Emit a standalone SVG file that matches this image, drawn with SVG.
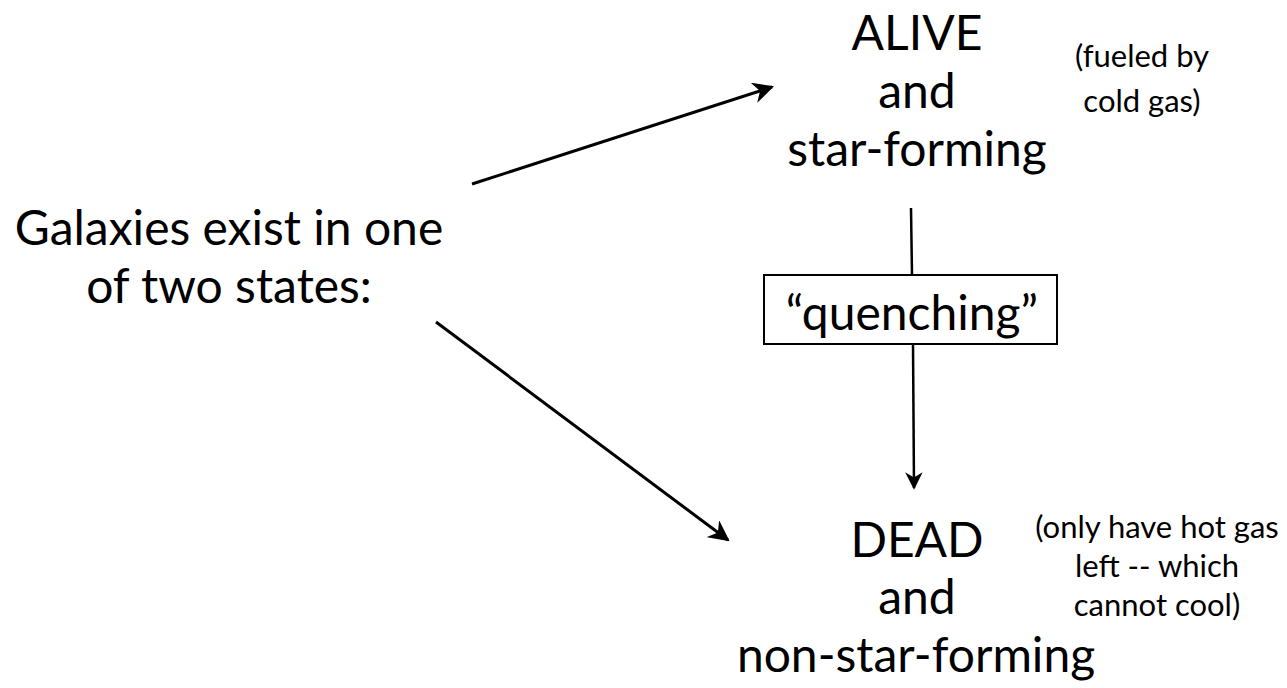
<svg xmlns="http://www.w3.org/2000/svg" width="1287" height="688" viewBox="0 0 1287 688">
<defs>
<style>
.big{font-family:Lato,"Liberation Sans",sans-serif;font-size:48px;fill:#000;text-anchor:middle}
.small{font-family:Lato,"Liberation Sans",sans-serif;font-size:31px;fill:#000;text-anchor:middle}
.conn{stroke:#000;stroke-width:3;fill:none;marker-end:url(#ah)}
</style>
<marker id="ah" viewBox="0 0 10 10" refX="9" refY="5" markerWidth="7" markerHeight="7" markerUnits="strokeWidth" orient="auto">
<path d="M0,0 L10,5 L0,10 L3,5 Z" fill="#000"/>
</marker>
</defs>
<rect width="1287" height="688" fill="#fff"/>
<g id="galaxies">
<text class="big" x="229" y="245">Galaxies exist in one</text>
<text class="big" x="229" y="303">of two states:</text>
</g>
<g id="alive">
<text class="big" x="917" y="50">ALIVE</text>
<text class="big" x="917" y="108">and</text>
<text class="big" x="917" y="166">star-forming</text>
</g>
<g id="alive-note">
<text class="small" x="1142" y="67">(fueled by</text>
<text class="small" x="1142" y="112">cold gas)</text>
</g>
<g id="quenching">
<rect x="764" y="275" width="293" height="69" fill="#fff" stroke="#000" stroke-width="2"/>
<text class="big" x="912" y="330">“quenching”</text>
</g>
<g id="dead">
<text class="big" x="917" y="557">DEAD</text>
<text class="big" x="917" y="614">and</text>
<text class="big" x="916" y="672">non-star-forming</text>
</g>
<g id="dead-note">
<text class="small" x="1157" y="538">(only have hot gas</text>
<text class="small" x="1157" y="577">left -- which</text>
<text class="small" x="1157" y="616">cannot cool)</text>
</g>
<g id="connectors">
<line class="conn" x1="472" y1="184" x2="772" y2="87"/>
<line class="conn" x1="436" y1="322" x2="728" y2="540"/>
<line x1="911" y1="208" x2="912" y2="275" stroke="#000" stroke-width="2.5"/>
<line class="conn" x1="913" y1="344" x2="914" y2="488" style="stroke-width:2.5"/>
</g>
</svg>
